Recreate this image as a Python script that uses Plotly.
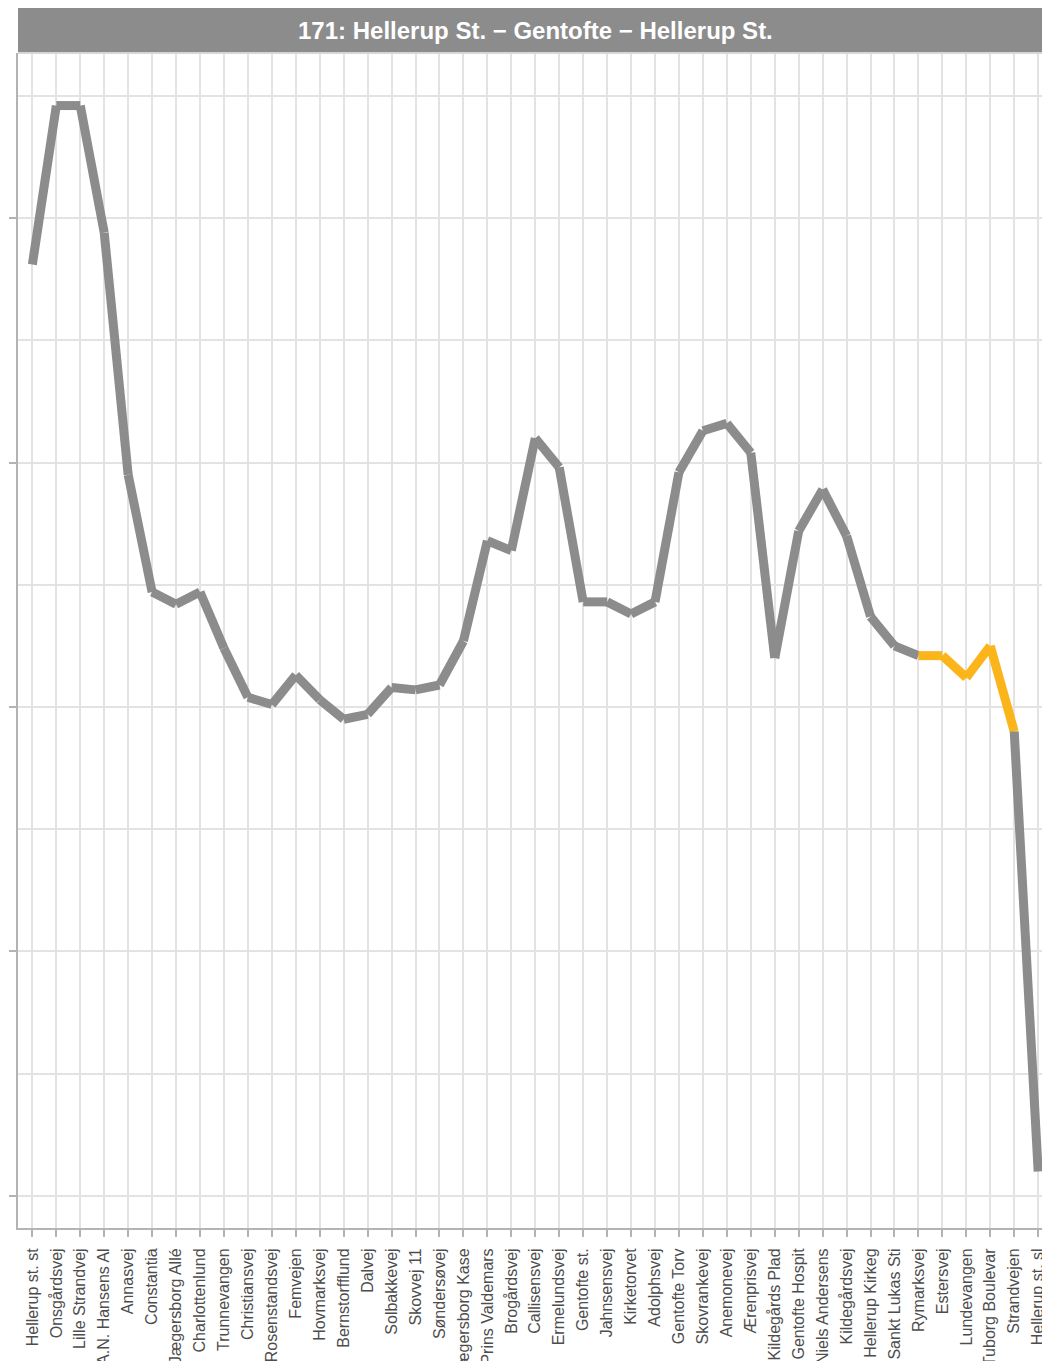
import plotly.graph_objects as go

# Stops along route 171, in driving order (names truncated to 15 characters)
stops = [
    "Hellerup st. st", "Onsgårdsvej", "Lille Strandvej", "A.N. Hansens Al",
    "Annasvej", "Constantia", "Jægersborg Allé", "Charlottenlund",
    "Trunnevangen", "Christiansvej", "Rosenstandsvej", "Femvejen",
    "Hovmarksvej", "Bernstorfflund", "Dalvej", "Solbakkevej", "Skovvej 11",
    "Søndersøvej", "Jægersborg Kase", "Prins Valdemars", "Brogårdsvej",
    "Callisensvej", "Ermelundsvej", "Gentofte st.", "Jahnsensvej",
    "Kirketorvet", "Adolphsvej", "Gentofte Torv", "Skovrankevej",
    "Anemonevej", "Ærenprisvej", "Kildegårds Plad", "Gentofte Hospit",
    "Niels Andersens", "Kildegårdsvej", "Hellerup Kirkeg", "Sankt Lukas Sti",
    "Rymarksvej", "Estersvej", "Lundevangen", "Tuborg Boulevar",
    "Strandvejen", "Hellerup st. sl",
]

# Value at each stop
values = [
    38.1, 44.6, 44.6, 39.4, 29.5, 24.7, 24.2, 24.7, 22.4, 20.4,
    20.1, 21.3, 20.3, 19.5, 19.7, 20.8, 20.7, 20.9, 22.7, 26.8,
    26.4, 31.0, 29.8, 24.3, 24.3, 23.8, 24.3, 29.6, 31.3, 31.6,
    30.4, 22.0, 27.2, 28.9, 27.0, 23.7, 22.5, 22.1, 22.1, 21.2,
    22.5, 19.0, 1.0,
]

# Segment groups: 0 = normal, 1 = highlighted (one flag per segment, from stop i to i+1)
segment_group = [0] * 37 + [1] * 4 + [0] * 1

GREY = "#8C8C8C"
HIGHLIGHT = "#FBB41A"

fig = go.Figure()

x_idx = list(range(len(stops)))
for i, grp in enumerate(segment_group):
    fig.add_trace(go.Scatter(
        x=[x_idx[i], x_idx[i + 1]],
        y=[values[i], values[i + 1]],
        mode="lines",
        line=dict(color=HIGHLIGHT if grp else GREY, width=9),
        hoverinfo="skip",
        showlegend=False,
    ))

W, H = 1042, 1361
m_l, m_r, m_t, m_b = 18, 0, 53, 133
plot_h = H - m_t - m_b
strip_h = 45
title_center_px = 535

fig.update_layout(
    width=W, height=H,
    margin=dict(l=m_l, r=m_r, t=m_t, b=m_b, autoexpand=False),
    paper_bgcolor="white",
    plot_bgcolor="white",
    font=dict(family="Liberation Sans, Arial, sans-serif"),
    showlegend=False,
    shapes=[
        dict(type="rect", xref="paper", yref="paper",
             x0=0, x1=1, y0=1, y1=1 + strip_h / plot_h,
             fillcolor="#8C8C8C", line=dict(width=0), layer="above"),
        dict(type="line", xref="paper", yref="paper",
             x0=0, x1=1, y0=1, y1=1,
             line=dict(color="#D6D6D6", width=2), layer="above"),
    ],
    annotations=[
        dict(text="<b>171: Hellerup St. − Gentofte − Hellerup St.</b>",
             xref="paper", yref="paper",
             x=(title_center_px - m_l) / (W - m_l - m_r),
             y=1 + strip_h / 2 / plot_h,
             xanchor="center", yanchor="middle", showarrow=False,
             font=dict(size=24, color="white",
                       family="Liberation Sans, Arial, sans-serif")),
    ],
)

fig.update_xaxes(
    range=[-0.6, 42.16],
    tickmode="array",
    tickvals=x_idx,
    ticktext=stops,
    tickangle=-90,
    tickfont=dict(size=16, color="#4D4D4D"),
    ticklabeloverflow="allow",
    ticklabelstandoff=5,
    ticks="outside", ticklen=7, tickwidth=1.5, tickcolor="#B3B3B3",
    showgrid=True, gridcolor="#E3E3E3", gridwidth=1.5,
    showline=True, linecolor="#B3B3B3", linewidth=2,
    zeroline=False, automargin=False,
)

fig.update_yaxes(
    range=[-1.31, 46.75],
    tickmode="array",
    tickvals=[0, 10, 20, 30, 40],
    showticklabels=False,
    ticks="outside", ticklen=7, tickwidth=1.5, tickcolor="#B3B3B3",
    showgrid=True, gridcolor="#E3E3E3", gridwidth=1.5,
    minor=dict(tickmode="array", tickvals=[5, 15, 25, 35, 45],
               showgrid=True, gridcolor="#E3E3E3", gridwidth=1.5, ticks=""),
    showline=True, linecolor="#B3B3B3", linewidth=2,
    zeroline=False, automargin=False,
)

fig.write_html("out.html")
